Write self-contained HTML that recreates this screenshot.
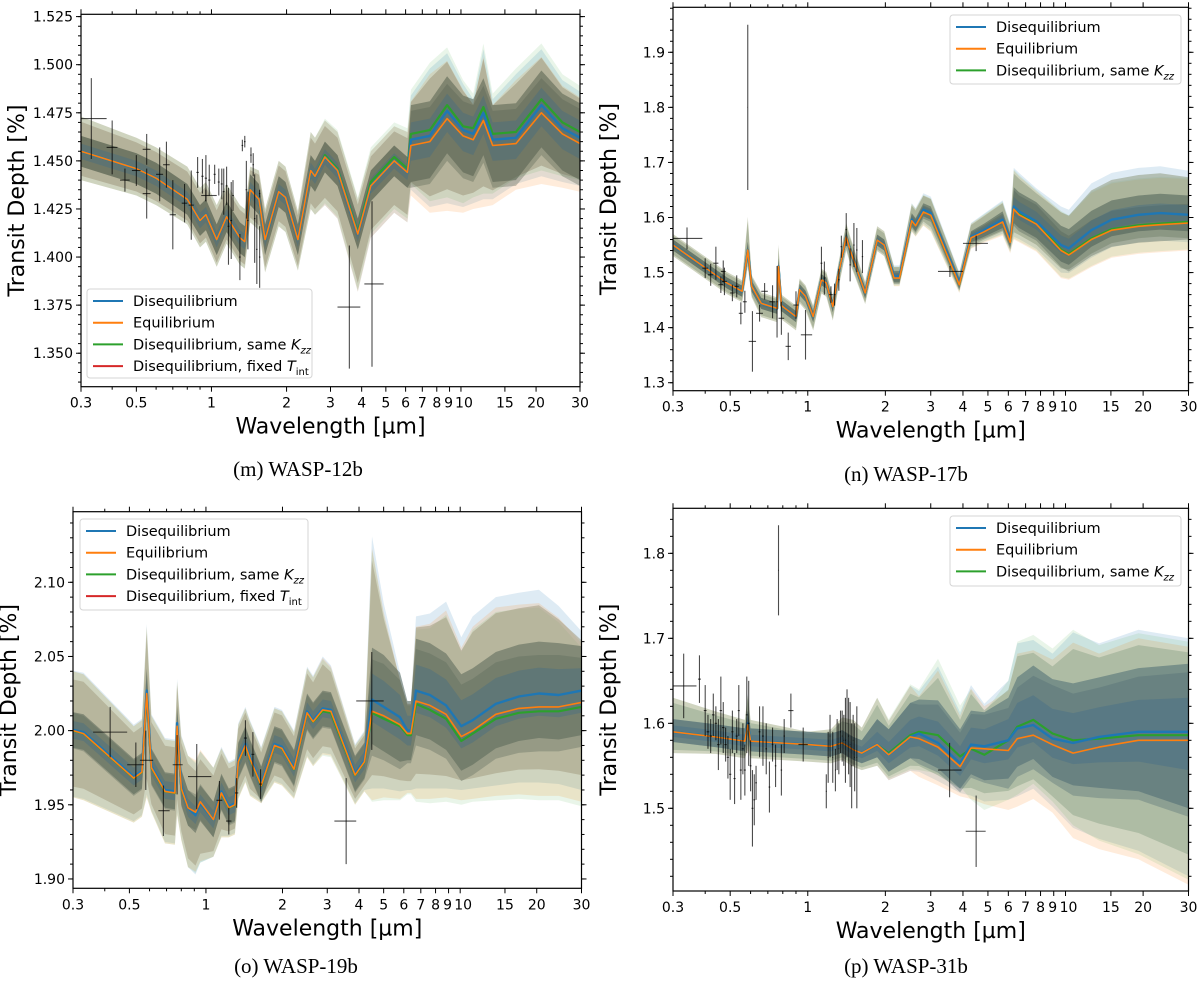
<!DOCTYPE html>
<html><head><meta charset="utf-8"><style>
html,body{margin:0;padding:0;background:#fff;}
svg{display:block;font-family:"DejaVu Sans","Liberation Sans",sans-serif;}
.cap{font-family:"Liberation Serif",serif;font-size:21px;}
</style></head><body>
<svg id="fig" width="1200" height="995" viewBox="0 0 1200 995" xmlns="http://www.w3.org/2000/svg"></svg>
<script>
// ---------- Panel m: WASP-12b ----------
const mWl=[0.3,0.5,0.6,0.8,0.9,0.95,1.05,1.15,1.3,1.36,1.43,1.55,1.64,1.86,1.98,2.22,2.5,2.6,2.85,3.2,3.86,4.35,5.4,6.1,6.3,7.5,8.8,10.2,11.2,12.3,13.4,16.6,21,25.5,30];
const mBlue=[1.455,1.446,1.441,1.430,1.419,1.422,1.409,1.421,1.410,1.408,1.435,1.430,1.409,1.434,1.431,1.409,1.445,1.442,1.452,1.445,1.412,1.437,1.450,1.444,1.461,1.463,1.476,1.466,1.464,1.475,1.461,1.462,1.479,1.467,1.462];
const mOrange=[1.455,1.446,1.441,1.430,1.419,1.422,1.409,1.421,1.410,1.408,1.435,1.430,1.409,1.434,1.431,1.409,1.445,1.442,1.452,1.445,1.412,1.437,1.450,1.444,1.458,1.460,1.472,1.463,1.461,1.471,1.458,1.459,1.475,1.464,1.459];
const mGreen=[1.455,1.446,1.441,1.430,1.419,1.422,1.409,1.421,1.410,1.408,1.435,1.430,1.409,1.434,1.431,1.409,1.445,1.442,1.453,1.446,1.413,1.439,1.452,1.446,1.464,1.466,1.479,1.468,1.467,1.478,1.464,1.465,1.482,1.470,1.465];
const mUp2=[0.018,0.016,0.016,0.017,0.017,0.017,0.018,0.017,0.017,0.017,0.012,0.015,0.016,0.016,0.016,0.015,0.020,0.020,0.019,0.020,0.018,0.018,0.018,0.021,0.023,0.035,0.030,0.024,0.018,0.033,0.021,0.033,0.029,0.025,0.024];
const mDn2=[0.015,0.014,0.014,0.013,0.014,0.014,0.014,0.014,0.014,0.014,0.017,0.016,0.017,0.018,0.018,0.016,0.020,0.020,0.025,0.025,0.030,0.027,0.027,0.026,0.026,0.037,0.048,0.040,0.036,0.045,0.031,0.024,0.037,0.028,0.025];
const mUp1=[0.008,0.008,0.008,0.008,0.008,0.008,0.008,0.008,0.008,0.008,0.008,0.008,0.008,0.008,0.008,0.008,0.008,0.008,0.008,0.008,0.008,0.008,0.008,0.008,0.018,0.018,0.018,0.018,0.018,0.018,0.018,0.018,0.018,0.018,0.018];
const mDn1=[0.008,0.008,0.008,0.008,0.008,0.008,0.008,0.008,0.008,0.008,0.008,0.008,0.008,0.008,0.008,0.008,0.008,0.008,0.008,0.008,0.008,0.008,0.008,0.008,0.022,0.022,0.022,0.022,0.022,0.022,0.022,0.022,0.022,0.022,0.022];
const mObsX=[0.33,0.40,0.45,0.50,0.55,0.55,0.62,0.66,0.70,0.78,0.83,0.88,0.92,0.95,0.95,0.98,1.03,1.07,1.10,1.12,1.15,1.17,1.20,1.22,1.30,1.33,1.36,1.38,1.40,1.44,1.47,1.49,1.52,1.56,1.56,3.57,4.4];
const mObsXlo=[0.30,0.38,0.43,0.48,0.53,0.53,0.60,0.64,0.68,0.76,0.81,0.87,0.91,0.91,0.94,0.97,1.02,1.06,1.09,1.11,1.14,1.16,1.19,1.21,1.29,1.32,1.35,1.37,1.39,1.43,1.46,1.48,1.51,1.55,1.55,3.2,4.1];
const mObsXhi=[0.38,0.42,0.47,0.52,0.57,0.57,0.64,0.68,0.72,0.80,0.85,0.89,0.93,1.05,0.96,0.99,1.04,1.08,1.11,1.13,1.16,1.18,1.21,1.23,1.31,1.34,1.37,1.39,1.41,1.45,1.48,1.50,1.53,1.57,1.57,3.95,4.9];
const mObsY=[1.472,1.457,1.440,1.445,1.456,1.433,1.443,1.448,1.422,1.428,1.427,1.444,1.442,1.432,1.441,1.440,1.443,1.439,1.438,1.434,1.437,1.416,1.419,1.432,1.400,1.458,1.460,1.435,1.419,1.453,1.448,1.420,1.404,1.400,1.433,1.374,1.386];
const mObsE=[0.021,0.014,0.006,0.008,0.008,0.013,0.014,0.012,0.018,0.010,0.018,0.008,0.009,0.003,0.012,0.008,0.005,0.007,0.008,0.012,0.010,0.020,0.020,0.008,0.012,0.003,0.003,0.015,0.015,0.004,0.006,0.023,0.018,0.016,0.002,0.032,0.043];

// ---------- Panel n: WASP-17b ----------
const nWl=[0.3,0.486,0.556,0.585,0.606,0.66,0.76,0.77,0.79,0.90,0.93,0.98,1.05,1.13,1.18,1.25,1.31,1.41,1.46,1.67,1.86,1.98,2.16,2.27,2.53,2.62,2.81,3.0,3.87,4.3,4.83,5.7,6.1,6.3,6.6,7.7,9.6,10.3,12.6,15.1,19.2,23.3,30];
const nBlue=[1.550,1.481,1.466,1.541,1.475,1.444,1.435,1.511,1.440,1.420,1.469,1.457,1.420,1.487,1.481,1.438,1.493,1.565,1.541,1.463,1.559,1.550,1.493,1.493,1.596,1.587,1.614,1.608,1.481,1.565,1.577,1.596,1.559,1.620,1.611,1.593,1.550,1.544,1.577,1.596,1.605,1.608,1.605];
const nOrange=[1.550,1.481,1.466,1.541,1.475,1.444,1.435,1.511,1.440,1.420,1.469,1.457,1.420,1.487,1.481,1.438,1.493,1.565,1.541,1.463,1.559,1.550,1.490,1.490,1.594,1.585,1.610,1.604,1.478,1.563,1.574,1.592,1.555,1.615,1.605,1.588,1.540,1.532,1.560,1.577,1.584,1.587,1.590];
const nGreen=[1.550,1.481,1.466,1.541,1.475,1.444,1.435,1.511,1.440,1.420,1.469,1.457,1.420,1.487,1.481,1.438,1.493,1.565,1.541,1.463,1.559,1.550,1.491,1.491,1.595,1.586,1.611,1.605,1.479,1.564,1.576,1.594,1.557,1.617,1.607,1.590,1.542,1.534,1.562,1.579,1.586,1.589,1.592];
const nUp2=[0.02,0.02,0.02,0.06,0.02,0.02,0.02,0.04,0.02,0.02,0.02,0.02,0.02,0.02,0.02,0.02,0.02,0.025,0.025,0.02,0.025,0.025,0.02,0.02,0.03,0.03,0.03,0.03,0.02,0.025,0.03,0.035,0.03,0.07,0.07,0.06,0.07,0.07,0.085,0.085,0.085,0.085,0.08];
const nDn2=[0.02,0.02,0.02,0.03,0.02,0.025,0.025,0.03,0.025,0.025,0.025,0.025,0.025,0.025,0.025,0.025,0.025,0.025,0.025,0.02,0.02,0.02,0.015,0.015,0.02,0.02,0.025,0.03,0.015,0.02,0.02,0.025,0.02,0.055,0.05,0.05,0.05,0.045,0.05,0.05,0.05,0.05,0.05];
const nUp1=[0.01,0.01,0.01,0.015,0.01,0.01,0.01,0.015,0.01,0.01,0.01,0.01,0.01,0.01,0.01,0.01,0.01,0.01,0.01,0.01,0.01,0.01,0.01,0.01,0.012,0.012,0.012,0.012,0.01,0.01,0.012,0.015,0.012,0.035,0.035,0.035,0.035,0.035,0.035,0.035,0.035,0.035,0.035];
const nDn1=[0.01,0.01,0.01,0.015,0.01,0.01,0.01,0.015,0.01,0.01,0.01,0.01,0.01,0.01,0.01,0.01,0.01,0.01,0.01,0.01,0.01,0.01,0.01,0.01,0.012,0.012,0.012,0.012,0.01,0.01,0.012,0.015,0.012,0.03,0.03,0.03,0.03,0.03,0.03,0.03,0.03,0.03,0.03];
const nObsX=[0.34,0.40,0.42,0.44,0.46,0.47,0.475,0.51,0.53,0.55,0.57,0.585,0.61,0.65,0.68,0.73,0.76,0.79,0.84,0.90,0.98,1.13,1.16,1.23,1.27,1.32,1.35,1.41,1.46,1.51,1.55,1.63,3.56,4.5];
const nObsXlo=[0.30,0.39,0.41,0.43,0.45,0.46,0.465,0.50,0.52,0.54,0.56,0.584,0.59,0.63,0.66,0.71,0.755,0.77,0.82,0.88,0.94,1.12,1.15,1.21,1.26,1.31,1.34,1.40,1.45,1.50,1.54,1.62,3.2,4.0];
const nObsXhi=[0.39,0.41,0.43,0.45,0.47,0.48,0.485,0.52,0.54,0.56,0.58,0.586,0.63,0.67,0.70,0.75,0.765,0.81,0.86,0.92,1.04,1.14,1.17,1.25,1.28,1.33,1.36,1.42,1.47,1.52,1.56,1.64,4.0,5.0];
const nObsY=[1.562,1.508,1.496,1.517,1.478,1.502,1.484,1.463,1.475,1.426,1.447,1.800,1.375,1.426,1.466,1.447,1.447,1.417,1.366,1.441,1.387,1.517,1.490,1.460,1.460,1.487,1.547,1.578,1.514,1.550,1.541,1.529,1.502,1.553];
const nObsE=[0.020,0.018,0.020,0.030,0.015,0.020,0.025,0.015,0.020,0.020,0.020,0.150,0.055,0.015,0.015,0.030,0.065,0.030,0.025,0.025,0.045,0.030,0.030,0.015,0.020,0.020,0.020,0.030,0.030,0.040,0.040,0.030,0.010,0.014];

// ---------- Panel o: WASP-19b ----------
const oWl=[0.3,0.33,0.52,0.56,0.585,0.61,0.69,0.755,0.77,0.80,0.85,0.91,0.95,1.07,1.15,1.23,1.3,1.34,1.43,1.49,1.65,1.86,1.99,2.22,2.5,2.64,2.88,3.1,3.86,4.2,4.5,5.0,5.8,6.2,6.4,6.7,7.6,8.8,10.1,11.2,13.8,17.0,20.4,24.4,30];
const oBlue=[2.0005,1.999,1.969,1.973,2.027,1.976,1.960,1.959,2.005,1.962,1.948,1.943,1.951,1.940,1.959,1.949,1.951,1.980,1.991,1.982,1.964,1.991,1.989,1.975,2.013,2.007,2.015,2.014,1.971,1.980,2.021,2.016,2.009,2.000,2.000,2.027,2.024,2.017,2.003,2.007,2.018,2.023,2.025,2.024,2.027];
const oOrange=[2.000,1.998,1.968,1.972,2.025,1.975,1.959,1.958,2.003,1.961,1.948,1.945,1.952,1.940,1.958,1.948,1.950,1.979,1.990,1.981,1.963,1.990,1.988,1.974,2.012,2.006,2.014,2.013,1.970,1.979,2.013,2.010,2.004,1.998,1.998,2.020,2.017,2.011,1.996,2.000,2.011,2.015,2.016,2.016,2.019];
const oGreen=[2.000,1.998,1.968,1.972,2.025,1.975,1.959,1.958,2.003,1.961,1.948,1.944,1.951,1.940,1.958,1.948,1.950,1.979,1.990,1.981,1.963,1.990,1.988,1.974,2.012,2.006,2.013,2.012,1.970,1.979,2.012,2.008,2.003,1.997,1.997,2.018,2.014,2.008,1.993,1.998,2.008,2.012,2.013,2.013,2.016];
const oUp2=[0.04,0.04,0.035,0.035,0.045,0.035,0.035,0.035,0.03,0.035,0.035,0.035,0.035,0.035,0.03,0.03,0.03,0.025,0.025,0.025,0.025,0.025,0.025,0.025,0.03,0.03,0.035,0.03,0.02,0.02,0.11,0.07,0.03,0.02,0.02,0.05,0.055,0.07,0.06,0.07,0.072,0.07,0.07,0.06,0.04];
const oDn2=[0.045,0.045,0.03,0.03,0.07,0.03,0.035,0.035,0.06,0.035,0.04,0.04,0.04,0.025,0.03,0.02,0.02,0.025,0.025,0.025,0.012,0.025,0.025,0.02,0.03,0.03,0.03,0.03,0.02,0.02,0.06,0.055,0.05,0.04,0.04,0.066,0.063,0.056,0.043,0.046,0.055,0.058,0.06,0.06,0.067];
const oUp1=[0.012,0.012,0.012,0.012,0.015,0.012,0.012,0.012,0.012,0.012,0.012,0.012,0.012,0.012,0.012,0.012,0.012,0.012,0.012,0.012,0.012,0.012,0.012,0.012,0.012,0.012,0.012,0.012,0.012,0.012,0.035,0.035,0.03,0.02,0.02,0.035,0.035,0.035,0.035,0.035,0.035,0.035,0.035,0.035,0.03];
const oDn1=[0.012,0.012,0.012,0.012,0.015,0.012,0.012,0.012,0.012,0.012,0.012,0.012,0.012,0.012,0.012,0.012,0.012,0.012,0.012,0.012,0.012,0.012,0.012,0.012,0.012,0.012,0.012,0.012,0.012,0.012,0.03,0.03,0.03,0.02,0.02,0.03,0.03,0.03,0.03,0.03,0.03,0.03,0.03,0.03,0.03];
const oObsX=[0.42,0.53,0.58,0.68,0.77,0.92,1.13,1.23,1.32,1.43,1.53,1.64,3.56,4.49];
const oObsXlo=[0.36,0.49,0.55,0.65,0.74,0.85,1.10,1.20,1.30,1.41,1.51,1.62,3.2,3.9];
const oObsXhi=[0.49,0.57,0.62,0.72,0.81,1.05,1.16,1.26,1.34,1.45,1.55,1.66,3.9,5.0];
const oObsY=[1.999,1.977,1.980,1.946,1.977,1.969,1.953,1.939,1.958,1.995,1.984,1.964,1.939,2.020];
const oObsE=[0.017,0.015,0.020,0.017,0.020,0.022,0.013,0.009,0.010,0.012,0.015,0.010,0.029,0.033];

// ---------- Panel p: WASP-31b ----------
const pWl=[0.3,0.438,0.57,0.585,0.60,1.0,1.23,1.36,1.5,1.62,1.86,2.06,2.5,2.7,3.2,3.9,4.3,4.84,6.0,6.5,7.5,8.9,10.7,13.5,19.2,30];
const pBlue=[1.590,1.584,1.579,1.600,1.579,1.575,1.573,1.577,1.569,1.565,1.575,1.563,1.584,1.588,1.577,1.553,1.575,1.573,1.580,1.594,1.598,1.582,1.577,1.584,1.590,1.590];
const pOrange=[1.590,1.584,1.579,1.598,1.579,1.575,1.573,1.577,1.569,1.565,1.575,1.563,1.584,1.582,1.572,1.549,1.571,1.570,1.568,1.582,1.586,1.575,1.565,1.572,1.580,1.580];
const pGreen=[1.590,1.584,1.579,1.598,1.579,1.575,1.573,1.577,1.569,1.565,1.575,1.565,1.586,1.590,1.586,1.561,1.570,1.563,1.580,1.596,1.604,1.588,1.580,1.582,1.586,1.586];
const pUp2=[0.04,0.03,0.025,0.035,0.025,0.015,0.02,0.03,0.035,0.03,0.055,0.04,0.06,0.05,0.09,0.06,0.07,0.05,0.07,0.10,0.10,0.10,0.13,0.11,0.12,0.11];
const pDn2=[0.025,0.02,0.02,0.03,0.02,0.02,0.02,0.02,0.02,0.02,0.025,0.03,0.04,0.045,0.045,0.035,0.06,0.065,0.07,0.08,0.075,0.08,0.10,0.12,0.14,0.17];
const pUp1=[0.015,0.015,0.015,0.015,0.015,0.015,0.015,0.015,0.015,0.015,0.03,0.03,0.04,0.04,0.05,0.04,0.04,0.04,0.05,0.06,0.07,0.07,0.07,0.07,0.075,0.08];
const pDn1=[0.012,0.012,0.012,0.012,0.012,0.012,0.012,0.012,0.012,0.012,0.015,0.02,0.025,0.03,0.03,0.03,0.035,0.04,0.045,0.045,0.04,0.045,0.05,0.06,0.07,0.09];
const pObsX=[0.33,0.38,0.40,0.41,0.42,0.43,0.44,0.45,0.46,0.47,0.48,0.49,0.50,0.51,0.52,0.53,0.54,0.55,0.56,0.57,0.58,0.59,0.60,0.61,0.62,0.63,0.65,0.67,0.69,0.71,0.73,0.75,0.77,0.79,0.81,0.86,0.96,1.18,1.20,1.22,1.25,1.28,1.30,1.32,1.34,1.36,1.38,1.40,1.42,1.44,1.46,1.48,1.50,1.52,1.55,3.55,4.5];
const pObsXlo=[0.30,0.375,0.395,0.405,0.415,0.425,0.435,0.445,0.455,0.465,0.475,0.485,0.495,0.505,0.515,0.525,0.535,0.545,0.555,0.565,0.575,0.585,0.595,0.605,0.615,0.625,0.645,0.665,0.685,0.705,0.725,0.745,0.768,0.785,0.805,0.84,0.92,1.175,1.195,1.215,1.245,1.275,1.295,1.315,1.335,1.355,1.375,1.395,1.415,1.435,1.455,1.475,1.495,1.515,1.545,3.2,4.1];
const pObsXhi=[0.37,0.385,0.405,0.415,0.425,0.435,0.445,0.455,0.465,0.475,0.485,0.495,0.505,0.515,0.525,0.535,0.545,0.555,0.565,0.575,0.585,0.595,0.605,0.615,0.625,0.635,0.655,0.675,0.695,0.715,0.735,0.755,0.772,0.795,0.815,0.88,1.0,1.185,1.205,1.225,1.255,1.285,1.305,1.325,1.345,1.365,1.385,1.405,1.425,1.445,1.465,1.485,1.505,1.525,1.555,3.95,4.9];
const pObsY=[1.644,1.652,1.615,1.590,1.585,1.610,1.600,1.575,1.615,1.595,1.575,1.560,1.540,1.590,1.535,1.585,1.615,1.545,1.570,1.545,1.610,1.600,1.550,1.500,1.510,1.530,1.590,1.585,1.570,1.525,1.575,1.550,1.780,1.545,1.585,1.615,1.575,1.520,1.560,1.585,1.560,1.545,1.575,1.570,1.590,1.585,1.580,1.580,1.600,1.585,1.575,1.550,1.580,1.560,1.560,1.545,1.473];
const pObsE=[0.038,0.028,0.030,0.020,0.020,0.025,0.020,0.030,0.040,0.030,0.020,0.025,0.030,0.025,0.030,0.020,0.030,0.035,0.030,0.030,0.045,0.050,0.030,0.045,0.030,0.020,0.030,0.035,0.030,0.030,0.020,0.025,0.053,0.030,0.020,0.020,0.020,0.020,0.030,0.025,0.030,0.025,0.030,0.030,0.025,0.030,0.030,0.050,0.040,0.045,0.050,0.050,0.030,0.040,0.060,0.032,0.042];

const xMajor=[0.3,0.5,1,2,3,4,5,6,7,8,9,10,15,20,30];
const xMajorLabels=["0.3","0.5","1","2","3","4","5","6","7","8","9","10","15","20","30"];
const xMinor=[0.4,0.6,0.7,0.8,0.9];

const NS="http://www.w3.org/2000/svg";
const svg=document.getElementById('fig');
function el(tag,attrs,parent){const e=document.createElementNS(NS,tag);for(const k in attrs)e.setAttribute(k,attrs[k]);(parent||svg).appendChild(e);return e;}

const panels=[
 {id:'m',L:81,R:580,T:14.3,B:386.7,ymin:1.3326,ymax:1.5262,yMaj:[1.350,1.375,1.400,1.425,1.450,1.475,1.500,1.525],yMinStep:0.005,dec:3,
  wl:mWl,blue:mBlue,orange:mOrange,green:mGreen,up2:mUp2,dn2:mDn2,up1:mUp1,dn1:mDn1,
  ox:mObsX,oxl:mObsXlo,oxh:mObsXhi,oy:mObsY,oe:mObsE,outer:'#9e957c',inner:'#56604f',
  leg:{x:87,y:289,w:225,h:89,four:true},cap:"(m) WASP-12b",capX:298,capY:476},
 {id:'n',L:673,R:1188.5,T:7.3,B:390.7,ymin:1.2855,ymax:1.9817,yMaj:[1.3,1.4,1.5,1.6,1.7,1.8,1.9],yMinStep:0.02,dec:1,
  wl:nWl,blue:nBlue,orange:nOrange,green:nGreen,up2:nUp2,dn2:nDn2,up1:nUp1,dn1:nDn1,
  ox:nObsX,oxl:nObsXlo,oxh:nObsXhi,oy:nObsY,oe:nObsE,outer:'#8f9a80',inner:'#4c5f55',
  leg:{x:950,y:15,w:231,h:69,four:false},cap:"(n) WASP-17b",capX:906,capY:481},
 {id:'o',L:73,R:581.5,T:511.7,B:888.3,ymin:1.8937,ymax:2.1476,yMaj:[1.90,1.95,2.00,2.05,2.10],yMinStep:0.01,dec:2,
  wl:oWl,blue:oBlue,orange:oOrange,green:oGreen,up2:oUp2,dn2:oDn2,up1:oUp1,dn1:oDn1,
  ox:oObsX,oxl:oObsXlo,oxh:oObsXhi,oy:oObsY,oe:oObsE,outer:'#a49c82',inner:'#5a6658',
  leg:{x:80,y:519,w:228,h:91,four:true},cap:"(o) WASP-19b",capX:296,capY:973},
 {id:'p',L:673,R:1188.5,T:508.3,B:891,ymin:1.4027,ymax:1.853,yMaj:[1.5,1.6,1.7,1.8],yMinStep:0.02,dec:1,
  wl:pWl,blue:pBlue,orange:pOrange,green:pGreen,up2:pUp2,dn2:pDn2,up1:pUp1,dn1:pDn1,
  ox:pObsX,oxl:pObsXlo,oxh:pObsXhi,oy:pObsY,oe:pObsE,outer:'#93a88e',inner:'#4d6b72',
  leg:{x:950,y:516,w:231,h:70,four:false},cap:"(p) WASP-31b",capX:906,capY:973}
];

function drawPanel(P){
  const xs=w=>P.L+Math.log10(w/0.3)/2*(P.R-P.L);
  const ys=v=>P.B-(v-P.ymin)/(P.ymax-P.ymin)*(P.B-P.T);
  const g=el('g',{});
  
  
  const cp=el('clipPath',{id:'clip'+P.id},g);
  el('rect',{x:P.L,y:P.T,width:P.R-P.L,height:P.B-P.T},cp);
  const plot=el('g',{'clip-path':'url(#clip'+P.id+')'},g);
  
  
  function band(up,dn,base,color,op,name){
    let d='';
    for(let i=0;i<P.wl.length;i++)d+=(i?'L':'M')+xs(P.wl[i]).toFixed(1)+','+ys(base[i]+up[i]).toFixed(1);
    for(let i=P.wl.length-1;i>=0;i--)d+='L'+xs(P.wl[i]).toFixed(1)+','+ys(base[i]-dn[i]).toFixed(1);
    const b=el('path',{d:d+'Z',fill:color,'fill-opacity':op,stroke:'none'},plot);
    
    
  }
  band(P.up2,P.dn2,P.blue,'#1f77b4',0.15,'band-outer-disequilibrium');
  band(P.up2,P.dn2,P.orange,'#ff7f0e',0.15,'band-outer-equilibrium');
  band(P.up2,P.dn2,P.green,'#2ca02c',0.1,'band-outer-same-kzz');
  band(P.up2.map(v=>v*0.85),P.dn2.map(v=>v*0.85),P.blue,P.outer,0.55,'band-outer-mixed');
  band(P.up1,P.dn1,P.blue,P.inner,0.55,'band-inner-disequilibrium');
  band(P.up1,P.dn1,P.orange,P.inner,0.35,'band-inner-equilibrium');
  band(P.up1.map(v=>v*0.5),P.dn1.map(v=>v*0.5),P.blue,'#3c6a8a',0.35,'band-core-disequilibrium');
  function line(vals,color,name,w){
    let d='';
    for(let i=0;i<P.wl.length;i++)d+=(i?'L':'M')+xs(P.wl[i]).toFixed(1)+','+ys(vals[i]).toFixed(1);
    const l=el('path',{d:d,fill:'none',stroke:color,'stroke-width':w,'stroke-linejoin':'round'},plot);
    
    
  }
  line(P.green,'#2ca02c','line-disequilibrium-same-kzz',2.2);
  line(P.blue,'#1f77b4','line-disequilibrium',2.4);
  line(P.orange,'#ff7f0e','line-equilibrium',1.6);
  for(let i=0;i<P.ox.length;i++){
    const eb=el('g',{stroke:'#000','stroke-opacity':0.7,'stroke-width':1.1},plot);
    
    
    const cx=xs(P.ox[i]),cy=ys(P.oy[i]);
    el('line',{x1:cx,x2:cx,y1:ys(P.oy[i]+P.oe[i]),y2:ys(P.oy[i]-P.oe[i])},eb);
    el('line',{x1:xs(P.oxl[i]),x2:xs(P.oxh[i]),y1:cy,y2:cy},eb);
  }
  const fr=el('rect',{x:P.L,y:P.T,width:P.R-P.L,height:P.B-P.T,fill:'none',stroke:'#000','stroke-width':1.2},g);
  
  
  const xt=el('g',{stroke:'#000','stroke-width':1},g);
  
  
  xMajor.forEach((w,i)=>{
    const x=xs(w);
    el('line',{x1:x,x2:x,y1:P.B,y2:P.B+5},xt);
    el('line',{x1:x,x2:x,y1:P.T,y2:P.T-5},xt);
    let dx=0; if(xMajorLabels[i]==='9')dx=-1; if(xMajorLabels[i]==='10')dx=3;
    const t=el('text',{x:x+dx,y:P.B+21,'text-anchor':'middle','font-size':14,fill:'#000',stroke:'none'},g);
    t.textContent=xMajorLabels[i];
    
    
  });
  xMinor.forEach(w=>{const x=xs(w);el('line',{x1:x,x2:x,y1:P.B,y2:P.B+3},xt);el('line',{x1:x,x2:x,y1:P.T,y2:P.T-3},xt);});
  const yt=el('g',{stroke:'#000','stroke-width':1},g);
  
  
  const n0=Math.ceil(P.ymin/P.yMinStep-1e-6),n1=Math.floor(P.ymax/P.yMinStep+1e-6);
  for(let k=n0;k<=n1;k++){const y=ys(k*P.yMinStep);el('line',{x1:P.L-3,x2:P.L,y1:y,y2:y},yt);el('line',{x1:P.R,x2:P.R+3,y1:y,y2:y},yt);}
  P.yMaj.forEach(v=>{
    const y=ys(v);
    el('line',{x1:P.L-5,x2:P.L,y1:y,y2:y},yt);el('line',{x1:P.R,x2:P.R+5,y1:y,y2:y},yt);
    const t=el('text',{x:P.L-8,y:y+5,'text-anchor':'end','font-size':14,fill:'#000',stroke:'none'},g);
    t.textContent=v.toFixed(P.dec);
    
    
  });
  const yl=el('text',{x:0,y:0,'text-anchor':'middle','font-size':22,transform:'translate('+(P.L-57)+','+((P.T+P.B)/2)+') rotate(-90)'},g);
  yl.textContent='Transit Depth [%]';
  
  
  const xl=el('text',{x:(P.L+P.R)/2,y:P.B+47,'text-anchor':'middle','font-size':22},g);
  xl.textContent='Wavelength [\u00b5m]';
  
  
  const cap=el('text',{x:P.capX,y:P.capY,'text-anchor':'middle',class:'cap'},g);
  cap.textContent=P.cap;
  
  
  const Lg=P.leg;
  const lg=el('g',{},g);
  
  
  el('rect',{x:Lg.x,y:Lg.y,width:Lg.w,height:Lg.h,rx:3,fill:'#fff','fill-opacity':0.85,stroke:'#d5d5d5'},lg);
  const entries=[['#1f77b4','Disequilibrium'],['#ff7f0e','Equilibrium'],['#2ca02c','kzz']];
  if(Lg.four)entries.push(['#d62728','tint']);
  const step=21.7;
  entries.forEach((e,i)=>{
    const cy=Lg.y+12+i*step;
    const ent=el('g',{},lg);
    
    
    el('line',{x1:Lg.x+6,x2:Lg.x+36,y1:cy,y2:cy,stroke:e[0],'stroke-width':2},ent);
    const t=el('text',{x:Lg.x+46,y:cy+5,'font-size':14.5},ent);
    if(e[1]==='kzz'){
      t.appendChild(document.createTextNode('Disequilibrium, same '));
      const a=el('tspan',{'font-style':'italic'},t);a.textContent='K';
      const b=el('tspan',{'font-style':'italic','font-size':10,dy:4},t);b.textContent='zz';
    }else if(e[1]==='tint'){
      t.appendChild(document.createTextNode('Disequilibrium, fixed '));
      const a=el('tspan',{'font-style':'italic'},t);a.textContent='T';
      const b=el('tspan',{'font-size':10,dy:4},t);b.textContent='int';
    }else t.textContent=e[1];
  });
}
panels.forEach(drawPanel);
</script>
</body></html>
